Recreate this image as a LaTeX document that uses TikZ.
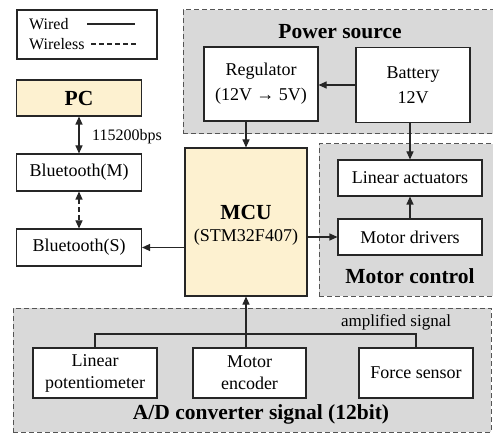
\documentclass[tikz,border=0pt]{standalone}
\usepackage{fontspec}
\setmainfont{LiberationSerif}[Extension=.ttf, UprightFont=*-Regular, BoldFont=*-Bold, ItalicFont=*-Italic, BoldItalicFont=*-BoldItalic]
\usetikzlibrary{positioning,arrows.meta,calc}
\definecolor{mcucolor}{RGB}{253,241,208}
\definecolor{zonecolor}{RGB}{217,217,217}
\definecolor{zoneline}{RGB}{85,85,85}

\begin{document}
\begin{tikzpicture}[
  x=1pt, y=-1pt,
  block/.style  = {rectangle, draw=black!85, line width=1.1pt, fill=white,
                   align=center, inner sep=0pt,
                   font=\fontsize{18}{22}\selectfont},
  zone/.style   = {rectangle, draw=zoneline, line width=1pt,
                   dash pattern=on 5pt off 3pt, fill=zonecolor, inner sep=0pt},
  title/.style  = {font=\fontsize{21.5}{24}\selectfont\bfseries},
  small/.style  = {font=\fontsize{16}{19}\selectfont, inner sep=1pt},
  wire/.style   = {line width=1.1pt, draw=black!85},
  link/.style   = {wire, -{Triangle[length=8pt,width=7pt]}},
  both/.style   = {wire, {Triangle[length=8pt,width=7pt]}-{Triangle[length=8pt,width=7pt]}}
]
\useasboundingbox (0,0) rectangle (493,433);
\clip (0,0) rectangle (493,433);

% grey zones
\node[zone, minimum width=314, minimum height=124] (powerzone) at (340,72) {};
\node[zone, minimum width=178, minimum height=152] (motorzone) at (408,220) {};
\node[zone, minimum width=478, minimum height=124] (adzone) at (252,370) {};

\node[title] (powertitle) at (340,32) {Power source};
\node[title] (motortitle) at (410,276) {Motor control};
\node[title] (adtitle) at (261,414) {A/D converter signal (12bit)};

% legend
\node[block, minimum width=140, minimum height=49] (legend) at (87,34.5) {};
\node[small, anchor=west] (wired) at (28,24) {Wired};
\node[small, anchor=west] (wireless) at (28,44) {Wireless};
\coordinate (wa) at (87,24);
\coordinate (wb) at (135,24);
\coordinate (wc) at (91,44);
\coordinate (wd) at (137,44);
\draw[wire] (wa) -- (wb);
\draw[wire, dash pattern=on 5pt off 3pt] (wc) -- (wd);

% blocks
\node[block, title, fill=mcucolor, minimum width=125, minimum height=36] (pc) at (79,98) {PC};
\node[block, minimum width=125, minimum height=37] (btm) at (79,172.5) {Bluetooth(M)};
\node[block, minimum width=125, minimum height=37] (bts) at (79,247.5) {Bluetooth(S)};

\node[block, fill=mcucolor, minimum width=122, minimum height=148] (mcu) at (246,222) {};
\node[title] (mcutitle) at (246,212) {MCU};
\node[font=\fontsize{18}{22}\selectfont] (mcusub) at (246,237) {(STM32F407)};

\node[block, minimum width=114, minimum height=74] (reg) at (261,84) {Regulator\\[3pt](12V → 5V)};
\node[block, minimum width=114, minimum height=75] (bat) at (413,85) {Battery\\[3pt]12V};

\node[block, minimum width=144, minimum height=36] (act) at (410,178) {Linear actuators};
\node[block, minimum width=144, minimum height=36] (drv) at (410,237) {Motor drivers};

\node[block, minimum width=124, minimum height=50] (pot) at (95,373) {Linear\\potentiometer};
\node[block, minimum width=113, minimum height=50] (enc) at (249.5,373) {Motor\\encoder};
\node[block, minimum width=114, minimum height=50] (force) at (416,373) {Force sensor};

% connections
\draw[both] (pc) -- (btm);
\node[small, anchor=west] (baud) at (91,137) {115200bps};
\draw[both, dash pattern=on 5pt off 3pt] (btm) -- (bts);
\draw[link] (mcu.west |- bts) -- (bts.east);
\draw[link] (mcu.east |- drv) -- (drv.west);
\draw[link] (drv) -- (act);
\draw[link] (bat.south -| act) -- (act.north);
\draw[link] (bat.west) -- (reg.east |- bat.west);
\draw[link] (reg.south -| mcu) -- (mcu.north);

\coordinate (bus) at (0,334);
\draw[wire] (pot.north) -- (pot.north |- bus) -- (force.north |- bus) -- (force.north);
\draw[link] (enc.north -| mcu) -- (mcu.south);
\node[small, font=\fontsize{17}{20}\selectfont] (amp) at (396,322) {amplified signal};
\end{tikzpicture}
\end{document}
